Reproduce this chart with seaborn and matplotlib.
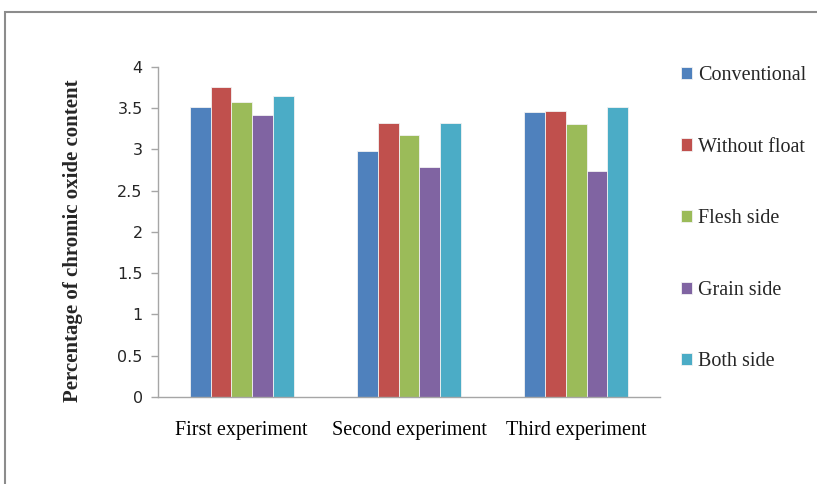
import numpy as np
import pandas as pd
import matplotlib
matplotlib.use("Agg")
import matplotlib.pyplot as plt
from matplotlib.patches import Rectangle
import seaborn as sns

sns.set_theme(style="white")

# data
experiments = ["First experiment", "Second experiment", "Third experiment"]
methods = ["Conventional", "Without float", "Flesh side", "Grain side", "Both side"]
conventional = [3.51, 2.98, 3.45]
without_float = [3.76, 3.32, 3.47]
flesh_side = [3.58, 3.17, 3.31]
grain_side = [3.42, 2.79, 2.74]
both_side = [3.65, 3.32, 3.52]
colors = ["#4F81BD", "#C0504D", "#9BBB59", "#8064A2", "#4BACC6"]

series = [conventional, without_float, flesh_side, grain_side, both_side]
df = pd.DataFrame(
    [(exp, m, v) for m, vals in zip(methods, series) for exp, v in zip(experiments, vals)],
    columns=["experiment", "method", "value"],
)

fig = plt.figure(figsize=(8.17, 4.84), dpi=100)
ax = fig.add_axes([0.1934, 0.1798, 0.6144, 0.6818])

sns.barplot(
    data=df, x="experiment", y="value", hue="method",
    order=experiments, hue_order=methods, palette=colors,
    width=0.62, gap=0, saturation=1, errorbar=None, ax=ax,
    edgecolor="#f2f2f2", linewidth=0.6,
)

ax.set_ylim(0, 4)
ax.set_yticks(np.arange(0, 4.01, 0.5))
ax.set_yticklabels(["0", "0.5", "1", "1.5", "2", "2.5", "3", "3.5", "4"],
                   family="DejaVu Sans", fontsize=11.5, color="#262626")
ax.set_xticks(range(len(experiments)))
ax.set_xticklabels(experiments, family="Liberation Serif", fontsize=14.5, color="black")
ax.set_xlabel("")
ax.set_ylabel("Percentage of chromic oxide content", family="Liberation Serif",
              fontsize=15, fontweight="bold")
ax.yaxis.set_label_coords(-0.15, 0.475)
for s in ["top", "right"]:
    ax.spines[s].set_visible(False)
for s in ["left", "bottom"]:
    ax.spines[s].set_color("#a6a6a6")
    ax.spines[s].set_linewidth(1)
ax.tick_params(axis="y", which="both", left=True, length=5, width=1, color="#a6a6a6", pad=6)
ax.tick_params(axis="x", bottom=False, pad=11)

handles, labels = ax.get_legend_handles_labels()
ax.get_legend().remove()
fig.legend(handles, labels, loc="upper left", bbox_to_anchor=(0.811, 0.901),
           frameon=False, prop={"family": "Liberation Serif", "size": 14.5},
           handlelength=0.55, handleheight=0.55, handletextpad=0.3, labelspacing=2.61)

# outer chart border
fig.patches.append(Rectangle((5 / 817, -0.2), 1.2, 0.2 + 472 / 484, transform=fig.transFigure,
                             fill=False, edgecolor="#8c8c8c", linewidth=1.5))

fig.savefig("out.png", dpi=100)
